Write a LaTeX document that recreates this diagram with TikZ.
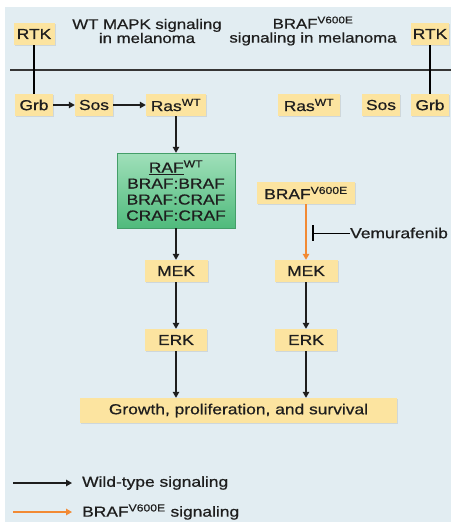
\documentclass[tikz,border=0pt]{standalone}
\usepackage{fontspec}
\setmainfont[FakeStretch=1.2,FakeBold=0.7]{Liberation Sans}
\usetikzlibrary{positioning,arrows.meta,shadows}

\definecolor{bgblue}{RGB}{226,237,242}
\definecolor{boxyellow}{RGB}{252,228,160}
\definecolor{rafdark}{RGB}{80,186,124}
\definecolor{raflight}{RGB}{160,224,186}
\definecolor{mutorange}{RGB}{242,138,52}
\definecolor{inktext}{RGB}{30,30,30}

\begin{document}
\begin{tikzpicture}[x=1pt, y=-1pt, >={Triangle[length=6pt,width=6.5pt]},
  font=\fontsize{14.5}{16}\selectfont, text=inktext,
  ybox/.style={fill=boxyellow, minimum height=22pt, inner sep=2pt,
    drop shadow={shadow xshift=1pt, shadow yshift=-1pt, opacity=0.2}},
  greenbox/.style={top color=raflight, bottom color=rafdark, draw=rafdark!85!black,
    line width=0.4pt, align=center, minimum width=118pt, minimum height=75pt,
    drop shadow={shadow xshift=1pt, shadow yshift=-1pt, opacity=0.2}},
  wtarrow/.style={->, line width=1.3pt, draw=inktext},
  mutarrow/.style={->, line width=1.3pt, draw=mutorange, fill=mutorange}]
  \useasboundingbox (0,0) rectangle (451,522);
  \fill[bgblue] (5,7) rectangle (451,522);

  % receptors and membrane
  \node[ybox, minimum width=41pt] (rtkL) at (34,34) {RTK};
  \node[ybox, minimum width=38pt] (rtkR) at (430,34) {RTK};
  \node[align=center, font=\fontsize{14}{14}\selectfont] (titleL) at (147,31) {WT MAPK signaling\\in melanoma};
  \node[align=center, font=\fontsize{14}{14}\selectfont] (titleR) at (313,31) {BRAF\textsuperscript{V600E}\\signaling in melanoma};
  \coordinate (memL) at (10,70);
  \coordinate (memR) at (451,70);
  \draw[line width=1.3pt, draw=inktext!90] (memL) -- (memR);

  \node[ybox, minimum width=38pt] (grbL) at (34,105) {Grb};
  \node[ybox, minimum width=38pt] (sosL) at (94,105) {Sos};
  \node[ybox, minimum width=60pt] (rasL) at (176,105) {Ras\textsuperscript{WT}};
  \node[ybox, minimum width=62pt] (rasR) at (309,105) {Ras\textsuperscript{WT}};
  \node[ybox, minimum width=38pt] (sosR) at (381,105) {Sos};
  \node[ybox, minimum width=38pt] (grbR) at (430,105) {Grb};
  \draw[line width=1.3pt] (rtkL) -- (grbL);
  \draw[line width=1.3pt] (rtkR) -- (grbR);

  % cascade
  \node[greenbox, font=\fontsize{14.5}{16}\selectfont] (raf) at (176,190.5) {\underline{RAF}\textsuperscript{WT}\\BRAF:BRAF\\BRAF:CRAF\\CRAF:CRAF};
  \node[ybox, minimum width=98pt] (braf) at (306,193) {BRAF\textsuperscript{V600E}};
  \node[ybox, minimum width=63pt] (mekL) at (176,271) {MEK};
  \node[ybox, minimum width=63pt] (mekR) at (306,271) {MEK};
  \node[ybox, minimum width=62pt] (erkL) at (176,340) {ERK};
  \node[ybox, minimum width=62pt] (erkR) at (306,340) {ERK};
  \node[ybox, minimum width=317pt, minimum height=25pt] (grow) at (238.5,410.5) {Growth, proliferation, and survival};

  \draw[wtarrow] (grbL) -- (sosL);
  \draw[wtarrow] (sosL) -- (rasL);
  \draw[wtarrow] (rasL) -- (raf);
  \draw[wtarrow] (raf) -- (mekL);
  \draw[wtarrow] (mekL) -- (erkL);
  \draw[wtarrow] (erkL) -- (erkL |- grow.north);
  \draw[mutarrow] (braf) -- (mekR);
  \draw[wtarrow] (mekR) -- (erkR);
  \draw[wtarrow] (erkR) -- (erkR |- grow.north);

  % inhibitor
  \node[anchor=west, inner sep=0pt] (vemu) at (350,233) {Vemurafenib};
  \coordinate (block) at (313,233);
  \draw[line width=0.9pt] (vemu.west) -- (block);
  \draw[line width=1.3pt] ([yshift=8pt]block) -- ([yshift=-8pt]block);

  % legend
  \node[anchor=west, inner sep=0pt] (legwt) at (82,483) {Wild-type signaling};
  \node[anchor=west, inner sep=0pt] (legmut) at (82,512) {BRAF\textsuperscript{V600E} signaling};
  \coordinate (legwtA) at (13,483);
  \coordinate (legmutA) at (13,512);
  \draw[wtarrow] (legwtA) -- ([xshift=-10pt]legwt.west);
  \draw[mutarrow] (legmutA) -- ([xshift=-10pt]legmut.west);
\end{tikzpicture}
\end{document}
